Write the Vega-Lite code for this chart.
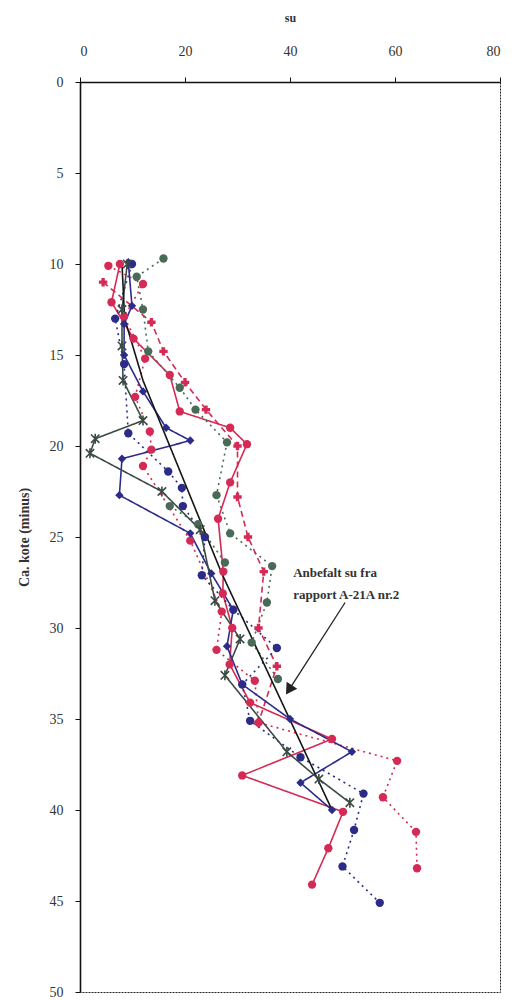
{
  "$schema": "https://vega.github.io/schema/vega-lite/v6.json",
  "width": 420,
  "height": 910,
  "autosize": {"type": "none"},
  "padding": {"left": 80, "top": 82, "right": 12, "bottom": 8},
  "background": "white",
  "config": {
    "view": {"stroke": "#222", "strokeWidth": 1, "strokeDash": [2, 1]},
    "font": "Liberation Serif"
  },
  "datasets": {
    "pts": [
      {"s": "R1", "su": 7.6, "d": 10}, {"s": "R1", "su": 6, "d": 12.1}, {"s": "R1", "su": 10.2, "d": 14.1}, {"s": "R1", "su": 17.1, "d": 16.1}, {"s": "R1", "su": 19, "d": 18.1}, {"s": "R1", "su": 28.6, "d": 19}, {"s": "R1", "su": 31.8, "d": 19.9}, {"s": "R1", "su": 28.6, "d": 22}, {"s": "R1", "su": 26.3, "d": 24}, {"s": "R1", "su": 27.3, "d": 26.9}, {"s": "R1", "su": 27.2, "d": 28.1}, {"s": "R1", "su": 29, "d": 30}, {"s": "R1", "su": 28.5, "d": 32}, {"s": "R1", "su": 32.4, "d": 34.1}, {"s": "R1", "su": 48, "d": 36.1}, {"s": "R1", "su": 30.9, "d": 38.1}, {"s": "R1", "su": 50.1, "d": 40.1}, {"s": "R1", "su": 47.3, "d": 42.1}, {"s": "R1", "su": 44.2, "d": 44.1},

      {"s": "R2", "su": 5.4, "d": 10.1}, {"s": "R2", "su": 12, "d": 11.1}, {"s": "R2", "su": 8.4, "d": 12.9}, {"s": "R2", "su": 12.4, "d": 15.2}, {"s": "R2", "su": 10.5, "d": 17.3}, {"s": "R2", "su": 13.3, "d": 19.2}, {"s": "R2", "su": 13.6, "d": 20.2}, {"s": "R2", "su": 12, "d": 21.1}, {"s": "R2", "su": 21, "d": 25.2}, {"s": "R2", "su": 27, "d": 29.1}, {"s": "R2", "su": 26, "d": 31.2}, {"s": "R2", "su": 33.3, "d": 32.9}, {"s": "R2", "su": 34, "d": 35.2}, {"s": "R2", "su": 60.4, "d": 37.3}, {"s": "R2", "su": 57.7, "d": 39.3}, {"s": "R2", "su": 64, "d": 41.2}, {"s": "R2", "su": 64.2, "d": 43.2},

      {"s": "R3", "su": 4.4, "d": 11}, {"s": "R3", "su": 13.6, "d": 13.2}, {"s": "R3", "su": 15.9, "d": 14.8}, {"s": "R3", "su": 20, "d": 16.5}, {"s": "R3", "su": 24, "d": 18}, {"s": "R3", "su": 30, "d": 20}, {"s": "R3", "su": 30, "d": 22.8}, {"s": "R3", "su": 32, "d": 25}, {"s": "R3", "su": 35, "d": 26.9}, {"s": "R3", "su": 34, "d": 30}, {"s": "R3", "su": 37.5, "d": 32.1}, {"s": "R3", "su": 34, "d": 35.2},

      {"s": "B1", "su": 9.2, "d": 9.9}, {"s": "B1", "su": 9.9, "d": 12.3}, {"s": "B1", "su": 8.4, "d": 13.3}, {"s": "B1", "su": 8.4, "d": 15}, {"s": "B1", "su": 12, "d": 17}, {"s": "B1", "su": 16.4, "d": 19}, {"s": "B1", "su": 21, "d": 19.7}, {"s": "B1", "su": 8, "d": 20.7}, {"s": "B1", "su": 7.5, "d": 22.7}, {"s": "B1", "su": 21, "d": 24.8}, {"s": "B1", "su": 25, "d": 27}, {"s": "B1", "su": 29.2, "d": 29}, {"s": "B1", "su": 28, "d": 31}, {"s": "B1", "su": 30.9, "d": 33.1}, {"s": "B1", "su": 40, "d": 35}, {"s": "B1", "su": 51.8, "d": 36.8}, {"s": "B1", "su": 42, "d": 38.5}, {"s": "B1", "su": 48, "d": 40},

      {"s": "B2", "su": 9.9, "d": 10}, {"s": "B2", "su": 6.7, "d": 13}, {"s": "B2", "su": 8.4, "d": 15.5}, {"s": "B2", "su": 9.2, "d": 19.3}, {"s": "B2", "su": 16.8, "d": 21.4}, {"s": "B2", "su": 19.4, "d": 22.3}, {"s": "B2", "su": 19.6, "d": 23.3}, {"s": "B2", "su": 23.8, "d": 25}, {"s": "B2", "su": 23.2, "d": 27.1}, {"s": "B2", "su": 29.2, "d": 29}, {"s": "B2", "su": 37.5, "d": 31.1}, {"s": "B2", "su": 30.9, "d": 33.1}, {"s": "B2", "su": 32.4, "d": 35.1}, {"s": "B2", "su": 42, "d": 37.1}, {"s": "B2", "su": 54, "d": 39.1}, {"s": "B2", "su": 52.2, "d": 41.1}, {"s": "B2", "su": 50, "d": 43.1}, {"s": "B2", "su": 57.1, "d": 45.1},

      {"s": "G1", "su": 15.9, "d": 9.7}, {"s": "G1", "su": 10.8, "d": 10.7}, {"s": "G1", "su": 12, "d": 12.5}, {"s": "G1", "su": 13, "d": 14.8}, {"s": "G1", "su": 19, "d": 16.8}, {"s": "G1", "su": 22, "d": 18}, {"s": "G1", "su": 28, "d": 19.8}, {"s": "G1", "su": 26, "d": 22.7}, {"s": "G1", "su": 28.6, "d": 24.8}, {"s": "G1", "su": 36.6, "d": 26.6}, {"s": "G1", "su": 35.6, "d": 28.6}, {"s": "G1", "su": 32.7, "d": 30.8}, {"s": "G1", "su": 37.7, "d": 32.8},

      {"s": "G3", "su": 17.1, "d": 23.3}, {"s": "G3", "su": 22.5, "d": 24.3}, {"s": "G3", "su": 27.6, "d": 26.4},

      {"s": "G2", "su": 9, "d": 10}, {"s": "G2", "su": 8, "d": 12.5}, {"s": "G2", "su": 8, "d": 14.5}, {"s": "G2", "su": 8.2, "d": 16.4}, {"s": "G2", "su": 12, "d": 18.6}, {"s": "G2", "su": 2.9, "d": 19.6}, {"s": "G2", "su": 1.9, "d": 20.4}, {"s": "G2", "su": 15.6, "d": 22.5}, {"s": "G2", "su": 22.9, "d": 24.6}, {"s": "G2", "su": 25.7, "d": 28.5}, {"s": "G2", "su": 30.5, "d": 30.6}, {"s": "G2", "su": 27.6, "d": 32.6}, {"s": "G2", "su": 39.4, "d": 36.8}, {"s": "G2", "su": 45.5, "d": 38.3}, {"s": "G2", "su": 51.4, "d": 39.6},

      {"s": "K", "su": 8, "d": 10}, {"s": "K", "su": 8.5, "d": 13}, {"s": "K", "su": 12, "d": 16.4}, {"s": "K", "su": 27, "d": 27}, {"s": "K", "su": 48, "d": 40}
    ],
    "notes": [
      {"su": 40.6, "d": 27, "label": "Anbefalt su fra"},
      {"su": 40.6, "d": 28.2, "label": "rapport A-21A nr.2"}
    ],
    "arrow": [
      {"su": 50.5, "d": 28.6, "su2": 39.8, "d2": 33.4}
    ]
  },
  "layer": [
    {
      "data": {"name": "pts"},
      "mark": {"type": "line", "strokeWidth": 1.6},
      "encoding": {
        "x": {"field": "su", "type": "quantitative", "scale": {"domain": [0, 80], "nice": false},
          "axis": {"orient": "top", "values": [0, 20, 40, 60, 80], "title": "su", "grid": false,
            "labelFont": "Liberation Serif", "labelFontSize": 14, "labelColor": "#333333", "labelPadding": 19,
            "tickSize": 5, "tickColor": "#111", "domainColor": "#111", "domainWidth": 1.6,
            "titleFont": "Liberation Serif", "titleFontSize": 12, "titleFontWeight": "bold", "titleColor": "#333", "titlePadding": 20}},
        "y": {"field": "d", "type": "quantitative", "scale": {"domain": [0, 50], "nice": false, "reverse": true},
          "axis": {"values": [0, 5, 10, 15, 20, 25, 30, 35, 40, 45, 50], "title": "Ca. kote (minus)", "grid": false,
            "labelFont": "Liberation Serif", "labelFontSize": 14, "labelColor": "#333333", "labelPadding": 12,
            "tickSize": 5, "tickColor": "#111", "domainColor": "#111", "domainWidth": 1.6,
            "titleFont": "Liberation Serif", "titleFontSize": 14, "titleFontWeight": "bold", "titleColor": "#333", "titlePadding": 18}},
        "detail": {"field": "s"},
        "order": {"field": "d", "type": "quantitative"},
        "color": {"field": "s", "type": "nominal", "legend": null,
          "scale": {"domain": ["R1", "R2", "R3", "B1", "B2", "G1", "G3", "G2", "K"],
                    "range": ["#d42a55", "#d42a55", "#d42a55", "#2c2c88", "#2c2c88", "#4a6a58", "#4a6a58", "#3b4b44", "#151515"]}},
        "strokeDash": {"field": "s", "type": "nominal", "legend": null,
          "scale": {"domain": ["R1", "R2", "R3", "B1", "B2", "G1", "G3", "G2", "K"],
                    "range": [[1, 0], [2, 4], [6, 4], [1, 0], [2, 4], [2, 4], [2, 4], [1, 0], [1, 0]]}},
        "strokeWidth": {"field": "s", "type": "nominal", "legend": null,
          "scale": {"domain": ["R1", "R2", "R3", "B1", "B2", "G1", "G3", "G2", "K"],
                    "range": [1.6, 2, 1.8, 1.6, 2, 2, 2, 1.6, 2.8]}}
      }
    },
    {
      "data": {"name": "pts"},
      "transform": [{"filter": "datum.s !== 'K' && datum.s !== 'G2'"}],
      "mark": {"type": "point", "filled": true, "size": 70, "opacity": 1},
      "encoding": {
        "x": {"field": "su", "type": "quantitative"},
        "y": {"field": "d", "type": "quantitative"},
        "color": {"field": "s", "type": "nominal", "legend": null},
        "shape": {"field": "s", "type": "nominal", "legend": null,
          "scale": {"domain": ["R1", "R2", "R3", "B1", "B2", "G1", "G3"],
                    "range": ["circle", "circle", "cross", "diamond", "circle", "circle", "circle"]}}
      }
    },
    {
      "data": {"name": "pts"},
      "transform": [{"filter": "datum.s === 'G2'"}],
      "mark": {"type": "point", "filled": false, "size": 70, "strokeWidth": 1.6, "opacity": 1, "color": "#3b4b44",
               "shape": "M-1,-1L1,1M1,-1L-1,1M0,-1.2L0,1.2"},
      "encoding": {
        "x": {"field": "su", "type": "quantitative"},
        "y": {"field": "d", "type": "quantitative"}
      }
    },
    {
      "data": {"name": "arrow"},
      "mark": {"type": "rule", "color": "#222", "strokeWidth": 1.3},
      "encoding": {
        "x": {"field": "su", "type": "quantitative"},
        "y": {"field": "d", "type": "quantitative"},
        "x2": {"field": "su2"},
        "y2": {"field": "d2"}
      }
    },
    {
      "data": {"name": "arrow"},
      "mark": {"type": "point", "shape": "triangle-up", "filled": true, "color": "#222", "size": 160, "angle": 213, "opacity": 1},
      "encoding": {
        "x": {"field": "su2", "type": "quantitative"},
        "y": {"field": "d2", "type": "quantitative"}
      }
    },
    {
      "data": {"name": "notes"},
      "mark": {"type": "text", "align": "left", "baseline": "middle", "font": "Liberation Serif", "fontWeight": "bold", "fontSize": 13, "color": "#333"},
      "encoding": {
        "x": {"field": "su", "type": "quantitative"},
        "y": {"field": "d", "type": "quantitative"},
        "text": {"field": "label"}
      }
    }
  ]
}
